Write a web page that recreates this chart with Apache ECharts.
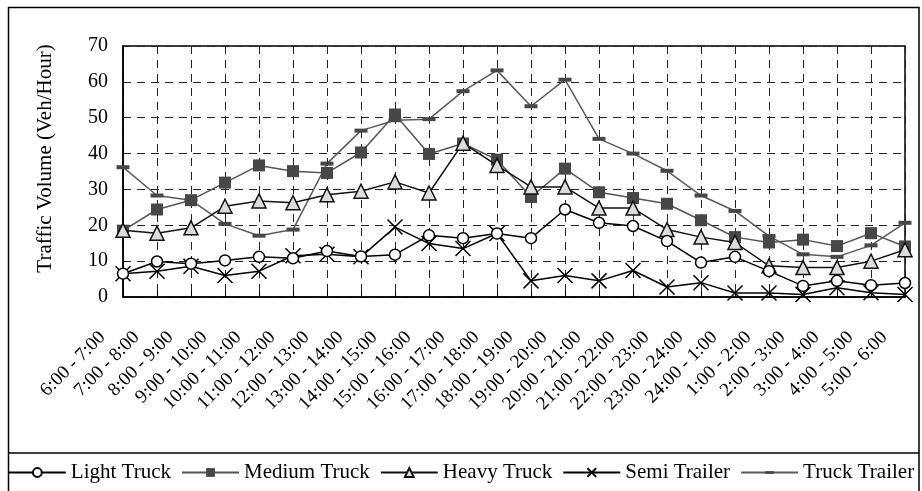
<!DOCTYPE html>
<html>
<head>
<meta charset="utf-8">
<script src="https://cdn.jsdelivr.net/npm/echarts@6/dist/echarts.min.js"></script>
<style>
html,body{margin:0;padding:0;background:#fff;}
#chart{width:922px;height:491px;}
</style>
</head>
<body>
<div id="chart"></div>
<script>
const categories = ['6:00 - 7:00','7:00 - 8:00','8:00 - 9:00','9:00 - 10:00','10:00 - 11:00','11:00 - 12:00','12:00 - 13:00','13:00 - 14:00','14:00 - 15:00','15:00 - 16:00','16:00 - 17:00','17:00 - 18:00','18:00 - 19:00','19:00 - 20:00','20:00 - 21:00','21:00 - 22:00','22:00 - 23:00','23:00 - 24:00','24:00 - 1:00','1:00 - 2:00','2:00 - 3:00','3:00 - 4:00','4:00 - 5:00','5:00 - 6:00'];
const lightTruck = [6.5, 9.9, 9.3, 10.2, 11.2, 10.8, 12.8, 11.3, 11.8, 17.2, 16.4, 17.7, 16.4, 24.4, 20.7, 19.8, 15.6, 9.6, 11.2, 7.2, 3.1, 4.5, 3.3, 3.9];
const mediumTruck = [18.5, 24.4, 27.0, 31.9, 36.7, 35.1, 34.6, 40.3, 50.9, 39.9, 42.8, 38.3, 27.9, 35.8, 29.2, 27.6, 26.0, 21.4, 16.7, 15.2, 16.0, 14.2, 17.8, 14.1];
const heavyTruck = [18.6, 17.8, 19.3, 25.3, 26.8, 26.3, 28.5, 29.5, 32.1, 29.0, 42.9, 36.7, 30.7, 30.7, 24.8, 24.8, 18.8, 16.7, 15.2, 8.7, 8.2, 8.2, 10.0, 13.2];
const semiTrailer = [6.5, 7.2, 8.6, 6.0, 7.2, 11.5, 11.9, 11.2, 19.5, 14.9, 13.5, 17.7, 4.5, 6.0, 4.5, 7.4, 2.8, 4.0, 1.1, 1.1, 0.7, 2.6, 1.2, 0.7];
const truckTrailer = [36.2, 28.3, 27.0, 20.4, 17.1, 18.8, 37.2, 46.4, 49.3, 49.6, 57.4, 63.2, 53.2, 60.6, 44.1, 40.0, 35.2, 28.3, 24.0, 17.0, 11.9, 11.2, 14.4, 20.7];
const yTicks = [0, 10, 20, 30, 40, 50, 60, 70];

const FONT = '"Liberation Serif", "Times New Roman", serif';
const chart = echarts.init(document.getElementById('chart'), null, {renderer: 'canvas'});

const option = {
  backgroundColor: '#fff',
  animation: false,
  textStyle: {fontFamily: FONT, color: '#000'},
  graphic: [
    {type: 'rect', shape: {x: 8.5, y: 7.5, width: 910.5, height: 495}, style: {fill: 'none', stroke: '#000', lineWidth: 1.5}, silent: true, z: -10},
    {type: 'line', shape: {x1: 8.5, y1: 453, x2: 919, y2: 453}, style: {stroke: '#000', lineWidth: 1.5}, silent: true, z: -10}
  ],
  grid: {left: 123, top: 46, right: 17, bottom: 194, show: true, borderColor: '#000', borderWidth: 1.5, backgroundColor: 'transparent'},
  legend: {
    bottom: 8, left: 'center', padding: 0,
    itemWidth: 57, itemHeight: 11, itemGap: 10,
    textStyle: {fontFamily: FONT, fontSize: 21, color: '#000'},
    data: ['Light Truck', 'Medium Truck', 'Heavy Truck', 'Semi Trailer', 'Truck Trailer']
  },
  xAxis: {
    type: 'category', data: categories, boundaryGap: false,
    axisLine: {lineStyle: {color: '#000', width: 1.5}},
    axisTick: {show: true, inside: true, length: 6, alignWithLabel: true, lineStyle: {color: '#000'}},
    axisLabel: {rotate: 45, interval: 0, fontFamily: FONT, fontSize: 19, color: '#000', margin: 17, padding: [0, 29, 0, 0]},
    splitLine: {show: true, lineStyle: {color: '#222', type: [8, 6], width: 1}}
  },
  yAxis: {
    type: 'value', min: 0, max: 70, interval: 10,
    name: 'Traffic Volume (Veh/Hour)', nameLocation: 'middle', nameGap: 67,
    nameTextStyle: {fontFamily: FONT, fontSize: 21, color: '#000', padding: [0, 0, 0, 26]},
    axisLine: {show: true, lineStyle: {color: '#000', width: 1.5}},
    axisTick: {show: false},
    axisLabel: {fontFamily: FONT, fontSize: 20, color: '#000', margin: 15,
      formatter: v => yTicks.includes(v) ? String(v) : ''},
    splitLine: {show: true, lineStyle: {color: '#222', type: [8, 6], width: 1}}
  },
  series: [
    {name: 'Truck Trailer', type: 'line', data: truckTrailer, z: 2,
      symbol: 'path://M0,-4.5M13,8.5M0,0L13,0L13,4L0,4Z', symbolSize: 13, showAllSymbol: true,
      lineStyle: {color: '#5a5a5a', width: 1.5},
      itemStyle: {color: '#474747', borderWidth: 0}},
    {name: 'Medium Truck', type: 'line', data: mediumTruck, z: 3,
      symbol: 'rect', symbolSize: 12, showAllSymbol: true,
      lineStyle: {color: '#555', width: 1.5},
      itemStyle: {color: '#474747', borderWidth: 0}},
    {name: 'Heavy Truck', type: 'line', data: heavyTruck, z: 4,
      symbol: 'triangle', symbolSize: 14, showAllSymbol: true,
      lineStyle: {color: '#111', width: 1.5},
      itemStyle: {color: '#dcdcdc', borderColor: '#111', borderWidth: 1.5}},
    {name: 'Semi Trailer', type: 'line', data: semiTrailer, z: 5,
      symbol: 'path://M0,0L10,10M10,0L0,10', symbolSize: 15, showAllSymbol: true,
      lineStyle: {color: '#000', width: 1.5},
      itemStyle: {color: '#000', borderColor: '#000', borderWidth: 1.5}},
    {name: 'Light Truck', type: 'line', data: lightTruck, z: 6,
      symbol: 'circle', symbolSize: 11, showAllSymbol: true,
      lineStyle: {color: '#000', width: 1.5},
      itemStyle: {color: '#fff', borderColor: '#000', borderWidth: 1.5}}
  ]
};
chart.setOption(option);
</script>
</body>
</html>
